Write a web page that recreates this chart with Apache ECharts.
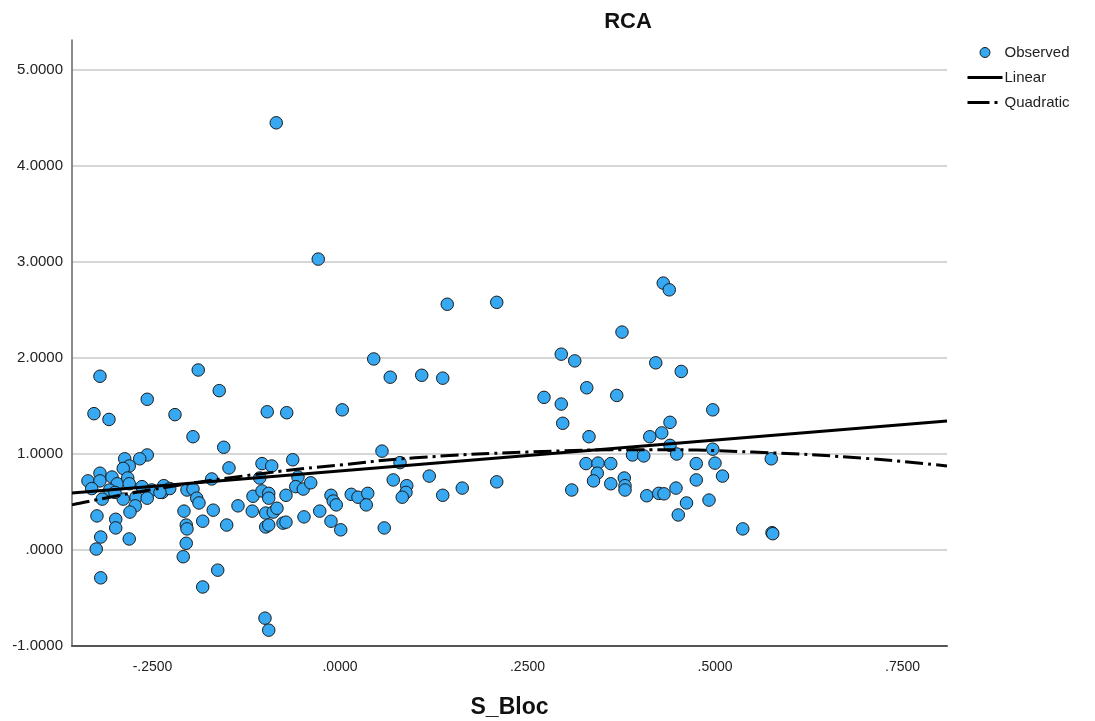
<!DOCTYPE html>
<html>
<head>
<meta charset="utf-8">
<title>RCA</title>
<script src="https://cdn.jsdelivr.net/npm/echarts@6/dist/echarts.min.js"></script>
<style>
  html, body { margin: 0; padding: 0; background: #fff; }
  #chart-container { width: 1095px; height: 721px; }
</style>
</head>
<body>
<div id="chart-container"></div>
<script>
// axis ranges
const xRange = [-0.3573, 0.8093];
const yRange = [-1, 5.3125];
const xTickLabels = [-0.25, 0, 0.25, 0.5, 0.75];

// Observed points: [S_Bloc, RCA]
const observed = [
  [-0.320, 1.81], [-0.189, 1.875], [-0.161, 1.66], [-0.257, 1.57], [-0.328, 1.42],
  [-0.308, 1.36], [-0.220, 1.41], [-0.196, 1.18], [-0.155, 1.07], [-0.257, 0.99],
  [-0.267, 0.95], [-0.287, 0.95], [-0.281, 0.875], [-0.289, 0.85], [-0.320, 0.80],
  [-0.336, 0.72], [-0.320, 0.72], [-0.304, 0.76], [-0.297, 0.69], [-0.283, 0.75],
  [-0.281, 0.69], [-0.331, 0.64], [-0.307, 0.625], [-0.264, 0.66], [-0.251, 0.625],
  [-0.235, 0.67], [-0.237, 0.60], [-0.227, 0.64], [-0.317, 0.53], [-0.289, 0.53],
  [-0.272, 0.55], [-0.257, 0.54], [-0.273, 0.46], [-0.280, 0.395], [-0.324, 0.355],
  [-0.299, 0.32], [-0.299, 0.23], [-0.319, 0.135], [-0.281, 0.115], [-0.325, 0.01],
  [-0.319, -0.29], [-0.208, 0.405], [-0.205, 0.26], [-0.204, 0.22], [-0.205, 0.07],
  [-0.209, -0.07], [-0.183, -0.385], [-0.163, -0.21], [-0.204, 0.625], [-0.196, 0.635],
  [-0.191, 0.54], [-0.188, 0.49], [-0.183, 0.30], [-0.169, 0.415], [-0.171, 0.74],
  [-0.151, 0.26], [-0.148, 0.855], [-0.136, 0.46], [-0.300, 0.60], [-0.240, 0.60],
  [0.045, 1.99], [0.067, 1.80], [0.109, 1.82], [0.137, 1.79], [-0.097, 1.44],
  [-0.071, 1.43], [0.003, 1.46], [0.056, 1.03], [-0.104, 0.90], [-0.091, 0.875],
  [-0.063, 0.94], [0.080, 0.91], [-0.107, 0.75], [-0.056, 0.76], [0.071, 0.73],
  [0.119, 0.77], [-0.059, 0.66], [-0.049, 0.635], [-0.039, 0.70], [-0.116, 0.56],
  [-0.104, 0.615], [-0.095, 0.59], [-0.095, 0.54], [-0.072, 0.57], [-0.012, 0.57],
  [-0.009, 0.51], [-0.005, 0.47], [0.015, 0.58], [0.024, 0.55], [0.037, 0.59],
  [0.035, 0.47], [0.089, 0.67], [0.088, 0.60], [0.083, 0.55], [0.137, 0.57],
  [-0.117, 0.405], [-0.099, 0.385], [-0.089, 0.395], [-0.084, 0.435], [-0.027, 0.405],
  [-0.048, 0.345], [-0.012, 0.30], [-0.099, 0.24], [-0.095, 0.26], [-0.076, 0.28],
  [-0.072, 0.29], [0.001, 0.21], [0.059, 0.23], [-0.100, -0.71], [-0.095, -0.835],
  [-0.029, 3.03], [-0.085, 4.45],
  [0.143, 2.56], [0.209, 2.58], [0.376, 2.27], [0.295, 2.04], [0.313, 1.97],
  [0.272, 1.59], [0.295, 1.52], [0.329, 1.69], [0.369, 1.61], [0.297, 1.32],
  [0.332, 1.18], [0.390, 0.99], [0.328, 0.90], [0.344, 0.905], [0.361, 0.90],
  [0.343, 0.80], [0.338, 0.72], [0.361, 0.69], [0.379, 0.75], [0.380, 0.67],
  [0.380, 0.625], [0.163, 0.645], [0.209, 0.71], [0.309, 0.625],
  [0.431, 2.78], [0.439, 2.71], [0.421, 1.95], [0.455, 1.86], [0.497, 1.46],
  [0.440, 1.33], [0.429, 1.22], [0.413, 1.18], [0.440, 1.09], [0.449, 1.00],
  [0.497, 1.05], [0.405, 0.98], [0.575, 0.95], [0.475, 0.90], [0.500, 0.905],
  [0.475, 0.73], [0.510, 0.77], [0.409, 0.565], [0.425, 0.59], [0.432, 0.585],
  [0.448, 0.645], [0.462, 0.49], [0.492, 0.52], [0.451, 0.365], [0.537, 0.22],
  [0.576, 0.18], [0.577, 0.17]
];

// fit lines at a few S_Bloc values
const linearFit = [[-0.3573, 0.594], [0.8093, 1.344]];
const quadraticFit = [
  [-0.3573, 0.47], [-0.25, 0.63], [-0.1, 0.80], [0, 0.885], [0.1, 0.96],
  [0.25, 1.02], [0.4, 1.045], [0.55, 1.02], [0.7, 0.955], [0.8093, 0.875]
];

// SPSS style numbers: ".2500", "-1.0000"
function spssNum(v) {
  let s = Math.abs(v).toFixed(4);
  if (s.charAt(0) === '0') s = s.slice(1);
  return (v < 0 ? '-' : '') + s;
}

const chartDom = document.getElementById('chart-container');
const myChart = echarts.init(chartDom, null, { renderer: 'canvas' });
const font = '"Liberation Sans", Arial, sans-serif';

const option = {
  backgroundColor: '#ffffff',
  animation: false,
  textStyle: { fontFamily: font },
  title: {
    text: 'RCA',
    left: 623,
    top: 6,
    textAlign: 'center',
    textStyle: { fontSize: 22, fontWeight: 'bold', color: '#111', fontFamily: font }
  },
  legend: {
    orient: 'vertical',
    left: 961,
    top: 40,
    itemWidth: 35,
    itemHeight: 10,
    itemGap: 10,
    textStyle: { fontSize: 15, color: '#222', fontFamily: font, padding: [0, 0, 0, -3] },
    data: [
      { name: 'Observed', icon: 'circle', itemStyle: { color: '#36a9f2', borderColor: '#1b1b1b', borderWidth: 1 } },
      { name: 'Linear', itemStyle: { opacity: 0 }, lineStyle: { width: 3 } },
      { name: 'Quadratic', itemStyle: { opacity: 0 }, lineStyle: { width: 3, type: [22, 5, 3, 5] } }
    ]
  },
  grid: { left: 72, right: 148, top: 40, bottom: 75, outerBoundsMode: 'none' },
  xAxis: {
    type: 'value',
    min: xRange[0],
    max: xRange[1],
    name: 'S_Bloc',
    nameLocation: 'middle',
    nameGap: 50,
    nameTextStyle: { fontSize: 23, fontWeight: 'bold', color: '#111', fontFamily: font },
    axisLine: { show: true, onZero: false, lineStyle: { color: '#555', width: 2 } },
    axisTick: { show: false },
    splitLine: { show: false },
    axisLabel: {
      customValues: xTickLabels,
      formatter: spssNum,
      fontSize: 14,
      color: '#222',
      margin: 14
    }
  },
  yAxis: {
    type: 'value',
    min: yRange[0],
    max: yRange[1],
    interval: 1,
    axisLine: { show: true, onZero: false, lineStyle: { color: '#666', width: 1.5 } },
    axisTick: { show: false },
    splitLine: { show: true, showMaxLine: false, showMinLine: false, lineStyle: { color: '#c9c9c9', width: 1.5 } },
    axisLabel: {
      showMaxLabel: false,
      formatter: function (v) { return Number.isInteger(v) ? spssNum(v) : ''; },
      fontSize: 15,
      color: '#222',
      margin: 9
    }
  },
  series: [
    {
      name: 'Observed',
      type: 'scatter',
      data: observed,
      symbol: 'circle',
      symbolSize: 12.5,
      z: 2,
      itemStyle: { color: '#36a9f2', borderColor: '#1b1b1b', borderWidth: 1, opacity: 1 }
    },
    {
      name: 'Linear',
      type: 'line',
      data: linearFit,
      symbol: 'none',
      z: 3,
      lineStyle: { color: '#000', width: 3, type: 'solid' },
      itemStyle: { color: '#000' }
    },
    {
      name: 'Quadratic',
      type: 'line',
      data: quadraticFit,
      symbol: 'none',
      smooth: 0.5,
      z: 3,
      lineStyle: { color: '#000', width: 3, type: [18, 5, 3, 5] },
      itemStyle: { color: '#000' }
    }
  ]
};

myChart.setOption(option);
window.addEventListener('resize', function () { myChart.resize(); });
</script>
</body>
</html>
